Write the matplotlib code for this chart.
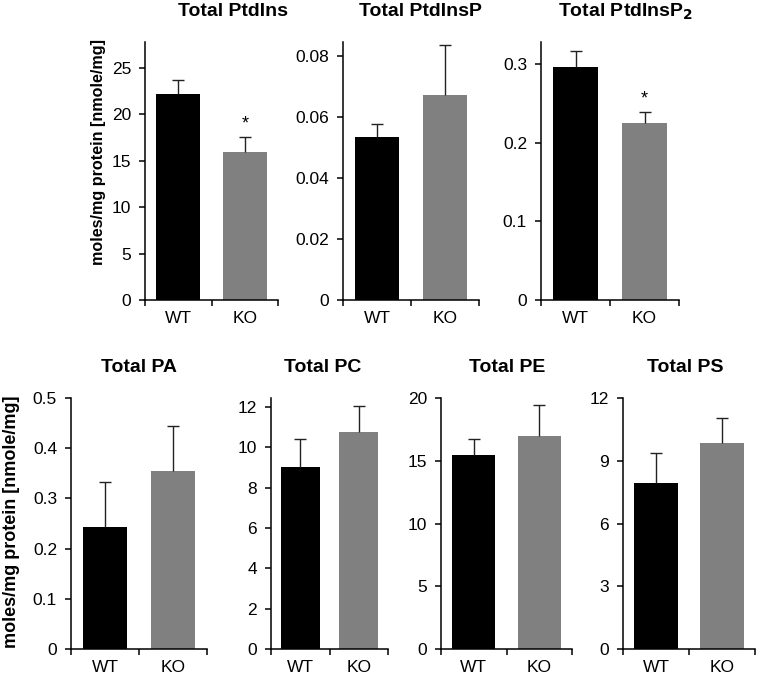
import matplotlib
matplotlib.use("Agg")
import matplotlib.pyplot as plt

plt.rcParams['font.family'] = ['Liberation Sans', 'DejaVu Sans']

groups = ['WT', 'KO']
titles = ['Total PtdIns', 'Total PtdInsP', 'Total PtdInsP$_\\mathbf{2}$',
          'Total PA', 'Total PC', 'Total PE', 'Total PS']
wt_mean = [22.2, 0.0533, 0.296, 0.243, 9.02, 15.44, 7.92]
wt_err = [1.5, 0.0044, 0.0205, 0.090, 1.39, 1.26, 1.44]
ko_mean = [15.97, 0.0672, 0.225, 0.355, 10.76, 16.96, 9.84]
ko_err = [1.58, 0.0163, 0.014, 0.089, 1.30, 2.48, 1.20]
ko_signif = [True, False, True, False, False, False, False]
yticks = [[0, 5, 10, 15, 20, 25],
          [0, 0.02, 0.04, 0.06, 0.08],
          [0, 0.1, 0.2, 0.3],
          [0, 0.1, 0.2, 0.3, 0.4, 0.5],
          [0, 2, 4, 6, 8, 10, 12],
          [0, 5, 10, 15, 20],
          [0, 3, 6, 9, 12]]
ytops = [27.8, 0.0846, 0.328, 0.5, 12.45, 20, 12]
ylabel = 'moles/mg protein [nmole/mg]'

W, H = 760, 680
# axes boxes in pixels: left, right, top, bottom
boxes = [(145, 278, 42, 300), (343, 479, 42, 300), (541, 679, 42, 300),
         (71, 207, 398, 649), (271, 388, 398, 649), (441, 572, 398, 649),
         (623, 755, 398, 649)]
title_pos = [(233, 12), (420, 12), (626, 12),
             (139, 367), (323, 367), (507, 367), (685, 367)]

fig = plt.figure(figsize=(7.6, 6.8), dpi=100)

for i in range(7):
    l, r, t, b = boxes[i]
    ax = fig.add_axes([l / W, 1 - b / H, (r - l) / W, (b - t) / H])
    x = [0, 1]
    means = [wt_mean[i], ko_mean[i]]
    errs = [wt_err[i], ko_err[i]]
    ax.bar(x, means, width=0.66, color=['black', '#808080'], zorder=2)
    tops = [m + e for m, e in zip(means, errs)]
    ax.vlines(x, means, tops, color='#222222', lw=1, zorder=3)
    ax.plot(x, tops, ls='none', marker='_', ms=9, mew=1, color='#222222', zorder=3)
    if ko_signif[i]:
        ax.annotate('*', (1, tops[1]), xytext=(0, 3), textcoords='offset points',
                    ha='center', va='bottom', fontsize=13)
    ax.set_xlim(-0.5, 1.5)
    ax.set_ylim(0, ytops[i])
    ax.set_xticks(x)
    ax.set_xticklabels(groups, fontsize=12.5)
    ax.set_xticks([-0.5, 0.5, 1.5], minor=True)
    ax.tick_params(axis='x', which='major', length=0, pad=8)
    ax.tick_params(axis='x', which='minor', length=4, width=1.1, direction='out')
    ax.set_yticks(yticks[i])
    ax.set_yticklabels(['{:g}'.format(v) for v in yticks[i]], fontsize=12.5)
    ax.tick_params(axis='y', length=4, width=1.1, direction='out', pad=6)
    for s in ['top', 'right']:
        ax.spines[s].set_visible(False)
    for s in ['left', 'bottom']:
        ax.spines[s].set_linewidth(1.1)
    tx, ty = title_pos[i]
    fig.text(tx / W, 1 - ty / H, titles[i], ha='center', va='center',
             fontsize=14, fontweight='bold')

fig.text(98 / W, 1 - 152 / H, ylabel, rotation=90, ha='center', va='center',
         fontsize=11.6, fontweight='bold')
fig.text(12 / W, 1 - 522 / H, ylabel, rotation=90, ha='center', va='center',
         fontsize=13, fontweight='bold')

fig.savefig('out.png', dpi=100)
